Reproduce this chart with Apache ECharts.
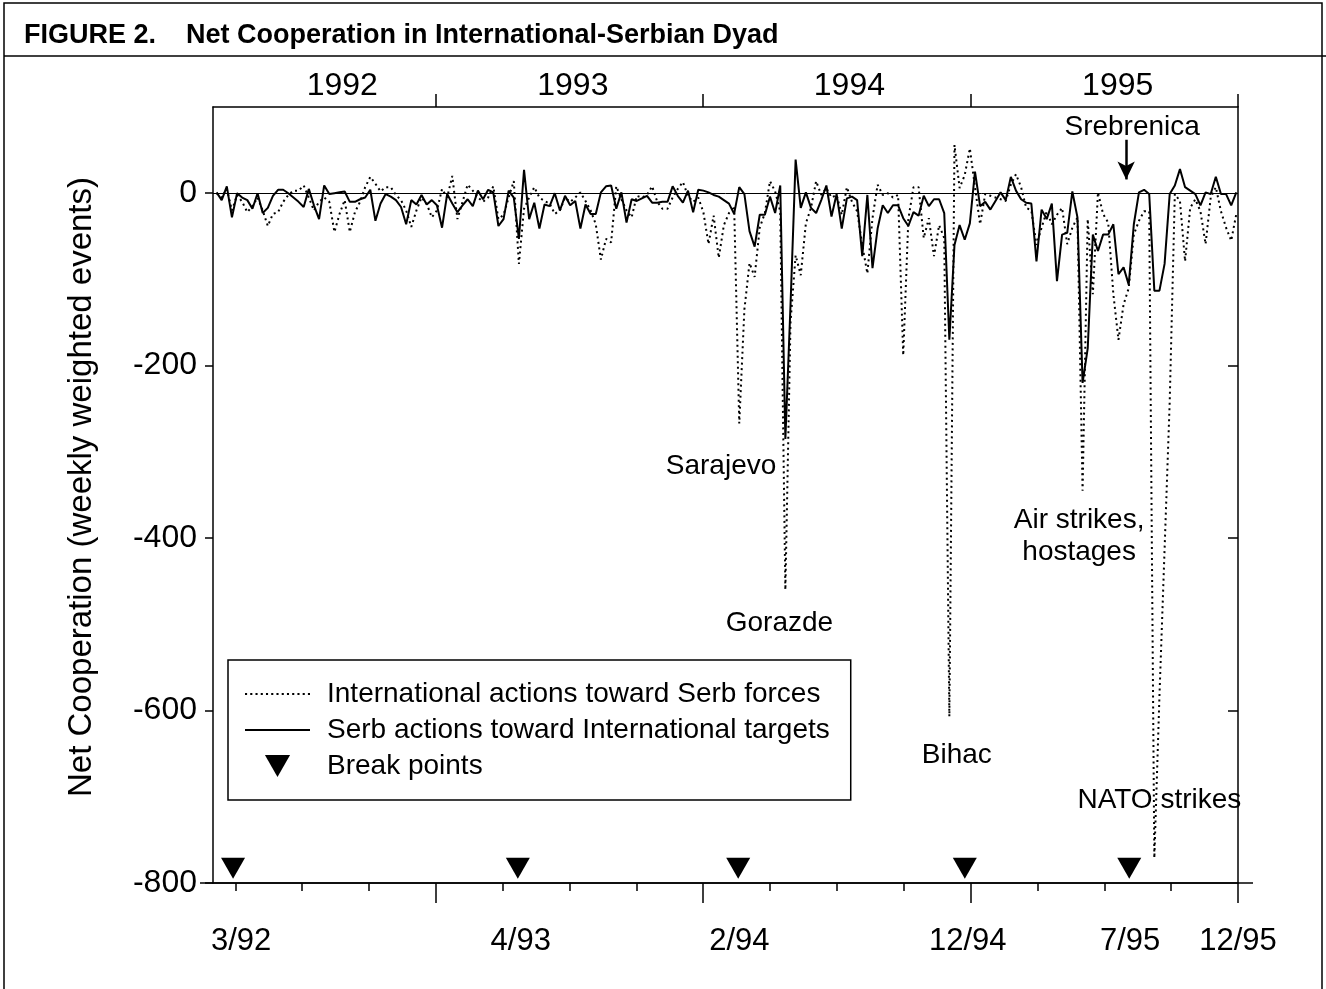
<!DOCTYPE html>
<html><head><meta charset="utf-8">
<script src="https://cdn.jsdelivr.net/npm/echarts@6/dist/echarts.min.js"></script>
<style>html,body{margin:0;padding:0;background:#fff}#c{width:1326px;height:989px}</style>
</head><body><div id="c"></div>
<script>
// x unit: months since 1 Jan 1992
const firstWeekMonth = 2.16;
const weekStep = 12 / 52.18;

// International actions toward Serb forces (weekly)
const international = [
  0, -5, 5, -20, -2, -10, -22, -15, -5, -20,
  -38, -24, -22, -10, -2, 3, 3, 9, -5, -20,
  -10, -5, -10, -45, -24, -8, -45, -22, -10, 7,
  19, 11, 2, 7, 7, -2, -8, -20, -39, -20,
  -5, -12, -28, -20, 5, -5, 20, -30, -10, 10,
  3, -5, -10, -5, 8, -30, -25, -5, 14, -82,
  -18, -5, 7, -5, -9, -12, -24, -20, -5, -10,
  -5, 1, -9, -20, -36, -77, -53, -57, 8, -7,
  -20, -28, -3, -5, -2, 8, -10, -18, -18, -5,
  5, 13, -3, -10, -5, -22, -59, -26, -75, -37,
  -23, -15, -267, -135, -81, -97, -40, -23, 14, 2,
  -21, -460, -150, -72, -95, -35, -17, 14, -2, 6,
  -5, -2, -25, 7, -10, -21, -60, -93, -29, 10,
  -2, 0, -5, -2, -188, -30, 7, 7, -52, -29,
  -73, -37, -52, -607, 56, 6, 21, 52, 7, -36,
  -1, -3, -5, -7, -9, 10, 22, 7, -17, -20,
  -60, -40, -21, -36, -25, -17, -59, -40, -28, -345,
  -30, -117, 1, -24, -34, -117, -170, -129, -110, -48,
  -32, -21, -21, -771, -583, -413, -242, -1, -9, -79,
  -17, -7, -21, -59, -5, 7, -21, -40, -55, -24
];
// Serb actions toward International targets (weekly)
const serb = [
  1, -8, 8, -28, 0, -5, -8, -18, 0, -23,
  -17, -3, 4, 4, 0, -5, -10, -16, 5, -14,
  -30, 9, -1, 0, 1, 2, -10, -10, -7, -5,
  4, -32, -12, -1, -4, -8, -16, -36, -8, -13,
  -2, -13, -8, -14, -40, -1, -12, -22, -14, -7,
  -15, 3, -7, 4, 1, -38, -30, 3, -5, -53,
  27, -30, -11, -41, -13, -15, 0, -20, -3, -14,
  -9, -41, -13, -24, -24, 1, 8, 9, -18, 1,
  -34, -7, -9, -6, -3, -11, -11, -10, -10, 8,
  -3, -11, 3, -22, 4, 3, 1, -2, -4, -8,
  -12, -24, 7, -1, -44, -62, -25, -25, -4, -23,
  9, -285, -130, 39, -17, 1, -17, -23, -8, 9,
  -27, -1, -41, -6, -4, -8, -73, -2, -87, -41,
  -14, -23, -14, -14, -29, -38, -22, -26, -3, -15,
  -7, -7, -23, -170, -60, -37, -54, -35, 25, -15,
  -10, -19, -9, 1, -8, 19, 3, -7, -11, -12,
  -79, -19, -30, -12, -102, -48, -46, 2, -28, -220,
  -180, -48, -67, -48, -48, -36, -94, -86, -106, -36,
  1, 4, -1, -113, -113, -82, -1, 9, 28, 7,
  3, -1, -14, 1, -1, 19, -1, -1, -14, 1
];

const breakPointMonths = [2.9, 15.68, 25.57, 35.74, 43.12];
const breakPointLevel = -783;

const bottomLabelMonths = [3.26, 15.81, 25.62, 35.87, 43.16, 48];
const bottomLabelTexts = ['3/92', '4/93', '2/94', '12/94', '7/95', '12/95'];
const quarterTickMonths = [3, 6, 9, 15, 18, 21, 27, 30, 33, 39, 42, 45];
const yearTickMonths = [12, 24, 36, 48];
const yearLabelMonths = [7.8, 18.15, 30.56, 42.6];
const yearLabelTexts = ['1992', '1993', '1994', '1995'];
const yTickValues = [-800, -600, -400, -200, 0];
const yRightTickValues = [-600, -400, -200];

const annotations = [
  { text: 'Sarajevo', month: 24.8, value: -317 },
  { text: 'Gorazde', month: 27.42, value: -499 },
  { text: 'Bihac', month: 35.38, value: -652 },
  { text: 'Air strikes,\nhostages', month: 40.87, value: -398 },
  { text: 'NATO strikes', month: 44.47, value: -704 },
  { text: 'Srebrenica', month: 43.25, value: 76 }
];
const srebrenicaArrow = { month: 42.98, from: 62, to: 16 };

const FONT = '"Liberation Sans", Arial, Helvetica, sans-serif';
const toXY = arr => arr.map((v, i) => [firstWeekMonth + i * weekStep, v]);

// legend icons (dotted sample, solid sample, downward triangle)
let dotPath = 'path://';
for (let x = 0; x < 65; x += 5) dotPath += 'M' + x + ',0h2v2h-2z';
const solidPath = 'path://M0,0h65v2h-65z';
const triPath = 'path://M0,0L24,0L12,21Z';

const chart = echarts.init(document.getElementById('c'), null, { renderer: 'canvas' });
const xCommon = { type: 'value', min: 2, max: 48, splitLine: { show: false } };
chart.setOption({
  animation: false,
  backgroundColor: '#fff',
  textStyle: { fontFamily: FONT, color: '#000' },
  title: {
    text: 'FIGURE 2.    Net Cooperation in International-Serbian Dyad',
    left: 19, top: 17,
    textStyle: { fontFamily: FONT, fontWeight: 'bold', fontSize: 27, color: '#000' }
  },
  graphic: [
    { type: 'rect', shape: { x: 4, y: 3, width: 1318, height: 990 }, style: { fill: null, stroke: '#000', lineWidth: 1.5 }, silent: true },
    { type: 'line', shape: { x1: 4, y1: 56, x2: 1326, y2: 56 }, style: { stroke: '#000', lineWidth: 1.5 }, silent: true },
    { type: 'line', shape: { x1: 200, y1: 883, x2: 1253, y2: 883 }, style: { stroke: '#000', lineWidth: 1.5 }, silent: true }
  ],
  grid: { left: 213, right: 88, top: 107, bottom: 106, containLabel: false },
  legend: {
    data: [
      { name: 'International actions toward Serb forces', icon: dotPath },
      { name: 'Serb actions toward International targets', icon: solidPath },
      { name: 'Break points', icon: triPath }
    ],
    orient: 'vertical', left: 228, top: 660,
    padding: [20, 21, 20, 17],
    borderColor: '#000', borderWidth: 1.5,
    itemWidth: 65, itemHeight: 22, itemGap: 8,
    symbolKeepAspect: true,
    itemStyle: { color: '#000', borderWidth: 0, opacity: 1 },
    textStyle: { fontSize: 28, color: '#000', fontFamily: FONT, padding: [0, 0, 0, 12] }
  },
  xAxis: [
    Object.assign({}, xCommon, {
      position: 'bottom',
      axisLine: { show: true, onZero: false, lineStyle: { color: '#000', width: 1.5 } },
      axisTick: { show: true, customValues: quarterTickMonths, length: 8, lineStyle: { color: '#000', width: 1.5 } },
      axisLabel: {
        show: true, customValues: bottomLabelMonths, margin: 43, fontSize: 31, color: '#000', fontFamily: FONT,
        formatter: v => { const i = bottomLabelMonths.findIndex(m => Math.abs(m - v) < 1e-6); return i >= 0 ? bottomLabelTexts[i] : ''; }
      }
    }),
    Object.assign({}, xCommon, {
      position: 'bottom',
      axisLine: { show: false, onZero: false },
      axisTick: { show: true, customValues: yearTickMonths, length: 20, lineStyle: { color: '#000', width: 1.5 } },
      axisLabel: { show: false }
    }),
    Object.assign({}, xCommon, {
      position: 'top',
      axisLine: { show: true, onZero: false, lineStyle: { color: '#000', width: 1.5 } },
      axisTick: { show: true, customValues: yearTickMonths, length: 13, lineStyle: { color: '#000', width: 1.5 } },
      axisLabel: {
        show: true, customValues: yearLabelMonths, margin: 5, fontSize: 32, color: '#000', fontFamily: FONT,
        formatter: v => { const i = yearLabelMonths.findIndex(m => Math.abs(m - v) < 1e-6); return i >= 0 ? yearLabelTexts[i] : ''; }
      }
    })
  ],
  yAxis: [
    {
      type: 'value', min: -800, max: 100, position: 'left',
      name: 'Net Cooperation (weekly weighted events)', nameLocation: 'middle', nameRotate: 90, nameGap: 115,
      nameTextStyle: { fontSize: 33, color: '#000', fontFamily: FONT, padding: [0, 0, 0, 16] },
      splitLine: { show: false },
      axisLine: { show: true, onZero: false, lineStyle: { color: '#000', width: 1.5 } },
      axisTick: { show: true, customValues: yTickValues, length: 8, lineStyle: { color: '#000', width: 1.5 } },
      axisLabel: { show: true, customValues: yTickValues, margin: 16, fontSize: 32, color: '#000', fontFamily: FONT }
    },
    {
      type: 'value', min: -800, max: 100, position: 'right',
      splitLine: { show: false },
      axisLine: { show: true, onZero: false, lineStyle: { color: '#000', width: 1.5 } },
      axisTick: { show: true, inside: true, customValues: yRightTickValues, length: 10, lineStyle: { color: '#000', width: 1.5 } },
      axisLabel: { show: false }
    }
  ],
  series: [
    {
      name: 'International actions toward Serb forces', type: 'line', xAxisIndex: 0, yAxisIndex: 0,
      data: toXY(international), symbol: 'none', smooth: false, z: 3,
      lineStyle: { color: '#000', width: 2, type: [2, 3.5] }, itemStyle: { color: '#000' }
    },
    {
      name: 'Serb actions toward International targets', type: 'line', xAxisIndex: 0, yAxisIndex: 0,
      data: toXY(serb), symbol: 'none', smooth: false, z: 4,
      lineStyle: { color: '#000', width: 2 }, itemStyle: { color: '#000' },
      markLine: {
        silent: true, symbol: 'none', label: { show: false },
        lineStyle: { color: '#000', width: 1, type: 'solid' },
        data: [{ yAxis: 0 }]
      }
    },
    {
      name: 'Break points', type: 'scatter', xAxisIndex: 0, yAxisIndex: 0,
      symbol: 'triangle', symbolRotate: 180, symbolSize: [24, 21], symbolKeepAspect: true,
      itemStyle: { color: '#000', opacity: 1 },
      data: breakPointMonths.map(m => [m, breakPointLevel])
    },
    {
      name: 'annotations', type: 'scatter', xAxisIndex: 0, yAxisIndex: 0,
      symbolSize: 0, silent: true, z: 6, itemStyle: { color: '#000', opacity: 1 },
      label: {
        show: true, position: [0, 0], align: 'center', verticalAlign: 'middle',
        formatter: '{b}', fontSize: 28, lineHeight: 32, color: '#000', fontFamily: FONT,
        textBorderWidth: 0, textBorderColor: 'transparent', opacity: 1
      },
      data: annotations.map(a => ({ name: a.text, value: [a.month, a.value] })),
      markLine: {
        silent: true, symbol: ['none', 'arrow'], symbolSize: [13, 18], label: { show: false },
        lineStyle: { color: '#000', width: 2.5, type: 'solid', opacity: 1 },
        itemStyle: { color: '#000', opacity: 1 },
        data: [[{ coord: [srebrenicaArrow.month, srebrenicaArrow.from] }, { coord: [srebrenicaArrow.month, srebrenicaArrow.to] }]]
      }
    }
  ]
});
</script></body></html>
